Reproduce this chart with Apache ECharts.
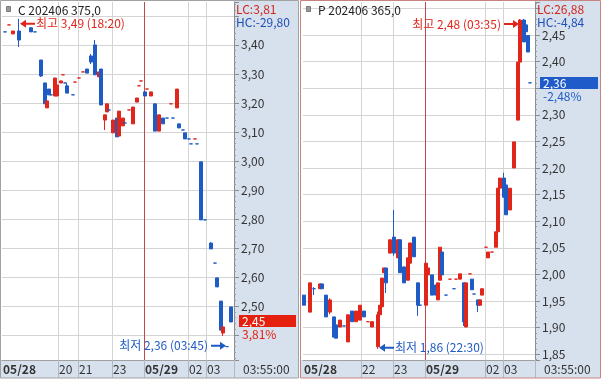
<!DOCTYPE html>
<html><head><meta charset="utf-8">
<script src="https://cdn.jsdelivr.net/npm/echarts@6/dist/echarts.min.js"></script>
<style>html,body{margin:0;padding:0;background:#fff}#c{width:602px;height:381px}</style>
</head><body><div id="c"></div>
<script>
// ---------- data ----------
const SLOTS = 116; // half-bar slots per panel

// Left panel: C 202406 375,0
const cTitle = 'C 202406 375,0';
const cLC = 3.81, cHC = -29.80, cLast = 2.45, cPct = 3.81;
const cTime = '03:55:00';
const cHourMarks = [[0,'05/28'],[28,'20'],[38,'21'],[55,'23'],[71,'05/29'],[93,'02'],[102,'03']];
// [slot, open, close, low, high]
const cCandles = [
  [1,3.445,3.445,3.445,3.445],[3,3.469,3.469,3.469,3.469],[5,3.438,3.448,3.438,3.448],
  [8,3.448,3.417,3.393,3.490],[14,3.459,3.445,3.445,3.462],[16,3.445,3.445,3.445,3.445],
  [19,3.348,3.293,3.290,3.348],[21,3.269,3.197,3.197,3.269],[22,3.183,3.207,3.183,3.207],
  [23,3.248,3.228,3.228,3.248],[24,3.228,3.228,3.228,3.228],[26,3.224,3.286,3.224,3.286],
  [27,3.224,3.262,3.224,3.262],[29,3.269,3.276,3.269,3.276],[30,3.297,3.297,3.297,3.297],
  [31,3.269,3.269,3.269,3.269],[32,3.259,3.234,3.234,3.269],[35,3.228,3.228,3.228,3.228],
  [36,3.272,3.272,3.272,3.272],[38,3.286,3.286,3.286,3.286],[40,3.307,3.307,3.307,3.307],
  [42,3.317,3.303,3.303,3.317],[44,3.362,3.341,3.334,3.369],[46,3.400,3.297,3.297,3.417],
  [48,3.290,3.307,3.290,3.307],[49,3.317,3.193,3.193,3.317],[51,3.141,3.159,3.107,3.159],
  [52,3.169,3.197,3.169,3.197],[53,3.176,3.176,3.176,3.176],[55,3.097,3.141,3.097,3.141],
  [57,3.148,3.083,3.083,3.148],[58,3.086,3.172,3.086,3.172],[60,3.121,3.148,3.121,3.148],
  [61,3.131,3.131,3.131,3.131],[63,3.176,3.176,3.176,3.176],[65,3.128,3.186,3.128,3.186],
  [67,3.203,3.217,3.203,3.217],[68,3.259,3.259,3.259,3.259],[69,3.276,3.276,3.276,3.276],
  [71,3.238,3.224,3.224,3.238],[72,3.248,3.248,3.248,3.248],[74,3.224,3.238,3.224,3.238],
  [76,3.197,3.103,3.103,3.197],[78,3.103,3.159,3.103,3.159],[80,3.148,3.128,3.128,3.148],
  [82,3.148,3.148,3.148,3.148],[84,3.197,3.197,3.197,3.197],[85,3.148,3.148,3.148,3.148],
  [87,3.183,3.248,3.183,3.248],[88,3.128,3.114,3.114,3.128],[90,3.107,3.107,3.107,3.107],
  [91,3.097,3.076,3.076,3.097],[93,3.076,3.076,3.076,3.076],[94,3.059,3.059,3.059,3.059],
  [96,3.076,3.076,3.076,3.076],[97,3.059,3.059,3.059,3.059],[99,2.997,2.797,2.797,2.997],
  [101,2.797,2.797,2.797,2.797],[104,2.717,2.697,2.697,2.720],[106,2.648,2.648,2.648,2.648],
  [107,2.597,2.566,2.566,2.597],[109,2.517,2.417,2.417,2.517],[110,2.407,2.428,2.397,2.428],
  [112,2.360,2.360,2.360,2.360],[114,2.497,2.445,2.445,2.497]
];
const cFlatUp = [3,30,36,38,40,63,68,69,72,84,96];
const cExtremes = [['최고',8,3.49,'18:20'],['최저',112,2.36,'03:45']];

// Right panel: P 202406 365,0
const pTitle = 'P 202406 365,0';
const pLC = 26.88, pHC = -4.84, pLast = 2.36, pPct = -2.48;
const pTime = '03:55:00';
const pHourMarks = [[0,'05/28'],[29,'22'],[45,'23'],[61,'05/29'],[91,'02'],[100,'03']];
const pCandles = [
  [0,1.961,1.942,1.942,1.961],[3,1.929,1.984,1.929,1.984],[5,1.973,1.973,1.961,1.976],
  [8,1.973,1.982,1.973,1.982],[9,1.982,1.973,1.973,1.982],[11,1.961,1.920,1.920,1.961],
  [13,1.929,1.952,1.925,1.955],[15,1.920,1.882,1.882,1.920],[16,1.905,1.880,1.880,1.905],
  [18,1.901,1.914,1.901,1.914],[20,1.903,1.903,1.903,1.903],[22,1.873,1.924,1.873,1.924],
  [24,1.931,1.911,1.911,1.931],[26,1.911,1.931,1.911,1.931],[28,1.914,1.942,1.914,1.942],
  [30,1.931,1.920,1.920,1.931],[32,1.911,1.911,1.911,1.911],[34,1.901,1.911,1.901,1.911],
  [37,1.864,1.924,1.860,1.930],[38,1.924,1.942,1.924,1.942],[39,1.939,1.993,1.939,1.993],
  [40,2.003,2.012,2.003,2.012],[41,2.012,1.984,1.965,2.012],[43,2.040,2.065,2.040,2.065],
  [45,2.070,2.040,2.035,2.121],[47,2.031,2.065,2.031,2.065],[48,2.065,2.003,2.003,2.065],
  [50,2.014,1.984,1.984,2.014],[52,1.989,2.031,1.989,2.031],[53,2.021,2.059,2.021,2.059],
  [55,2.070,2.033,2.033,2.070],[57,1.984,1.942,1.922,1.984],[58,1.942,1.942,1.942,1.942],
  [61,1.942,2.021,1.942,2.021],[62,1.999,2.012,1.999,2.012],[64,1.999,1.961,1.961,1.999],
  [66,1.980,1.961,1.961,1.980],[67,1.952,1.984,1.952,1.984],[68,1.989,2.051,1.989,2.051],
  [69,2.042,1.999,1.999,2.042],[71,1.961,1.961,1.961,1.961],[73,1.991,1.991,1.991,1.991],
  [75,1.973,1.973,1.973,1.973],[76,1.991,1.991,1.991,1.991],[78,1.991,2.001,1.991,2.001],
  [80,1.984,1.911,1.903,1.984],[81,1.901,1.984,1.901,1.984],[83,2.001,2.001,2.001,2.001],
  [84,1.991,1.971,1.971,1.991],[85,1.963,1.963,1.963,1.963],[87,1.952,1.942,1.929,1.952],
  [88,1.942,1.952,1.942,1.952],[89,1.961,1.973,1.961,1.973],[91,2.051,2.051,2.051,2.051],
  [92,2.031,2.042,2.031,2.042],[94,2.042,2.042,2.042,2.042],[96,2.051,2.080,2.051,2.080],
  [97,2.080,2.162,2.080,2.162],[98,2.162,2.181,2.162,2.181],[100,2.181,2.145,2.145,2.191],
  [101,2.168,2.112,2.112,2.168],[103,2.121,2.162,2.121,2.162],[105,2.200,2.249,2.200,2.249],
  [107,2.290,2.399,2.290,2.399],[108,2.399,2.478,2.399,2.480],[110,2.478,2.437,2.437,2.480],
  [111,2.469,2.456,2.456,2.469],[112,2.449,2.418,2.418,2.449],[113,2.360,2.360,2.360,2.360]
];
const pFlatUp = [32,73,76,83,91,94];
const pExtremes = [['최고',108,2.48,'03:35'],['최저',37,1.86,'22:30']];

// ---------- style ----------
const FONT = '"Noto Sans CJK KR","Noto Sans",sans-serif';
const RED = '#e0261a', BLUE = '#1f5bc4', GRID = '#d4d4d4', AXIS = '#8c8c8c';
const PANEL = '#d7e1ee', TXT = '#333', VLINE_RED = '#c04848';
const fmt = v => v.toFixed(2).replace('.', ',');

const slotNames = Array.from({length: SLOTS}, (_, i) => String(i));

function xAxisFor(gi, marks) {
  const idx = marks.map(m => m[0]);
  const lab = {}; marks.forEach(m => lab[m[0]] = m[1]);
  const lineIdx = idx.filter(i => i !== 0);
  const colors = lineIdx.map(i => lab[i].indexOf('/') >= 0 ? VLINE_RED : GRID).concat([GRID]);
  return {
    type: 'category', gridIndex: gi, data: slotNames, boundaryGap: true,
    axisLine: {show: true, lineStyle: {color: '#a0a0a0'}},
    axisTick: {show: true, length: 18, interval: i => lineIdx.includes(i), lineStyle: {color: '#b2b8c2'}},
    axisLabel: {
      interval: i => idx.includes(i), align: 'left', margin: 3, color: TXT, fontSize: 12, fontFamily: FONT,
      formatter: (v, i) => { const t = lab[i] || ''; return t.indexOf('/') >= 0 ? '{d|' + t + '}' : t; },
      rich: {d: {fontWeight: 'bold', fontSize: 12, color: TXT, fontFamily: FONT}}
    },
    splitLine: {show: true, interval: i => lineIdx.includes(i), lineStyle: {color: colors, width: 1}}
  };
}

function yAxisFor(gi, min, max, step, topLabel, last, hideBelow, hideAbove) {
  return {
    type: 'value', gridIndex: gi, position: 'right', min: min, max: max,
    minInterval: step, maxInterval: step, splitNumber: 12, scale: true,
    axisLine: {show: true, lineStyle: {color: AXIS}},
    axisTick: {show: true, length: 5, lineStyle: {color: AXIS}},
    minorTick: {show: true, splitNumber: 5, length: 2, lineStyle: {color: '#9a9a9a'}},
    minorSplitLine: {show: false},
    axisLabel: {
      margin: 7, color: TXT, fontSize: 12, fontFamily: FONT, showMinLabel: false, showMaxLabel: false,
      formatter: v => {
        const k = Math.round(v / step);
        if (Math.abs(k * step - v) > 1e-6) return '';
        if (v > topLabel + 1e-6) return '';
        if (v > last - hideBelow && v < last + hideAbove) return '';
        return fmt(v);
      }
    },
    splitLine: {show: true, showMinLine: false, showMaxLine: false, lineStyle: {color: GRID}}
  };
}

function seriesFor(gi, candles, flatUp, extremes) {
  const data = slotNames.map(() => ['-', '-', '-', '-']);
  candles.forEach(r => {
    const v = [r[1], r[2], r[3], r[4]];
    data[r[0]] = flatUp.includes(r[0])
      ? {value: v, itemStyle: {color: RED, color0: RED, borderColor: RED, borderColor0: RED, borderColorDoji: RED}}
      : v;
  });
  const mp = extremes.map(e => {
    const isHigh = e[0] === '최고';
    const col = isHigh ? RED : BLUE;
    const pointLeft = e[1] < SLOTS / 2;
    const text = e[0] + ' ' + fmt(e[2]) + ' (' + e[3] + ')';
    return {
      coord: [String(e[1]), e[2]],
      symbol: pointLeft ? 'path://M0,4L6,0L6,3L15,3L15,5L6,5L6,8Z' : 'path://M15,4L9,0L9,3L0,3L0,5L9,5L9,8Z',
      symbolSize: [15, 8],
      symbolOffset: [pointLeft ? 8.5 : -8.5, isHigh ? 5 : -1],
      itemStyle: {color: col},
      label: {show: true, position: pointLeft ? 'right' : 'left', distance: pointLeft ? 1 : 3,
        formatter: text, color: col, fontSize: 12, fontFamily: FONT}
    };
  });
  return {
    type: 'candlestick', xAxisIndex: gi, yAxisIndex: gi, data: data,
    barWidth: 3,
    itemStyle: {color: RED, color0: BLUE, borderColor: RED, borderColor0: BLUE, borderColorDoji: BLUE, borderWidth: 1},
    markPoint: {silent: true, animation: false, data: mp},
    animation: false
  };
}

const chart = echarts.init(document.getElementById('c'), null, {renderer: 'canvas'});
const L = {min: 2.314, max: 3.548}, R = {min: 1.839, max: 2.512};
chart.setOption({
  animation: false,
  backgroundColor: '#ffffff',
  grid: [
    {left: 2, top: 2, width: 232, height: 358},
    {left: 303, top: 2, width: 232, height: 358}
  ],
  xAxis: [xAxisFor(0, cHourMarks), xAxisFor(1, pHourMarks)],
  yAxis: [
    yAxisFor(0, L.min, L.max, 0.1, 3.40, cLast, 0.075, 0.025),
    yAxisFor(1, R.min, R.max, 0.05, 2.45, pLast, 0.04, 0.013)
  ],
  series: [seriesFor(0, cCandles, cFlatUp, cExtremes), seriesFor(1, pCandles, pFlatUp, pExtremes)]
});

// ---------- decorations (panels, headers, price tags) ----------
function panelGraphics(x0, x1, axisX, frameColor, title, lc, hc, time, last, pct, yIdx, tagColor) {
  const g = [];
  g.push({type: 'rect', z: -10, shape: {x: axisX, y: 1, width: x1 - axisX, height: 359}, style: {fill: PANEL}, silent: true});
  g.push({type: 'rect', z: -10, shape: {x: x0 + 1, y: 360, width: x1 - x0 - 1, height: 18}, style: {fill: PANEL}, silent: true});
  g.push({type: 'rect', z: 100, shape: {x: x0 + 0.5, y: 0.5, width: x1 - x0, height: 377.5}, style: {fill: null, stroke: frameColor, lineWidth: 1}, silent: true});
  g.push({type: 'rect', z: 100, shape: {x: x0 + 6.5, y: 6.5, width: 4, height: 5}, style: {fill: '#9a9a9a', stroke: '#7a7a7a', lineWidth: 1}, silent: true});
  g.push({type: 'text', z: 100, x: x0 + 18, y: 10, style: {text: title, fill: '#222', font: '12px ' + FONT, verticalAlign: 'middle'}, silent: true});
  g.push({type: 'text', z: 100, x: axisX + 2, y: 9, style: {text: 'LC:' + fmt(lc), fill: '#d0261c', font: '12px ' + FONT, verticalAlign: 'middle'}, silent: true});
  g.push({type: 'text', z: 100, x: axisX + 2, y: 22, style: {text: 'HC:' + fmt(hc), fill: '#1f4fb8', font: '12px ' + FONT, verticalAlign: 'middle'}, silent: true});
  g.push({type: 'text', z: 100, x: axisX + 9, y: 369, style: {text: time, fill: TXT, font: '12px ' + FONT, verticalAlign: 'middle'}, silent: true});
  const ty = chart.convertToPixel({yAxisIndex: yIdx}, last);
  g.push({type: 'rect', z: 100, shape: {x: axisX + 5, y: Math.round(ty) - 6, width: x1 - axisX - 7, height: 12}, style: {fill: tagColor}, silent: true});
  g.push({type: 'text', z: 101, x: axisX + 8, y: Math.round(ty), style: {text: fmt(last), fill: '#fff', font: '12px ' + FONT, verticalAlign: 'middle'}, silent: true});
  g.push({type: 'text', z: 101, x: axisX + 8, y: Math.round(ty) + 13, style: {text: fmt(pct) + '%', fill: tagColor, font: '12px ' + FONT, verticalAlign: 'middle'}, silent: true});
  return g;
}
chart.setOption({
  graphic: panelGraphics(0, 298, 234, '#a2a2a2', cTitle, cLC, cHC, cTime, cLast, cPct, 0, '#e5200f')
    .concat(panelGraphics(300, 600, 535, '#c98282', pTitle, pLC, pHC, pTime, pLast, pPct, 1, '#1f5cc9'))
});
</script></body></html>
